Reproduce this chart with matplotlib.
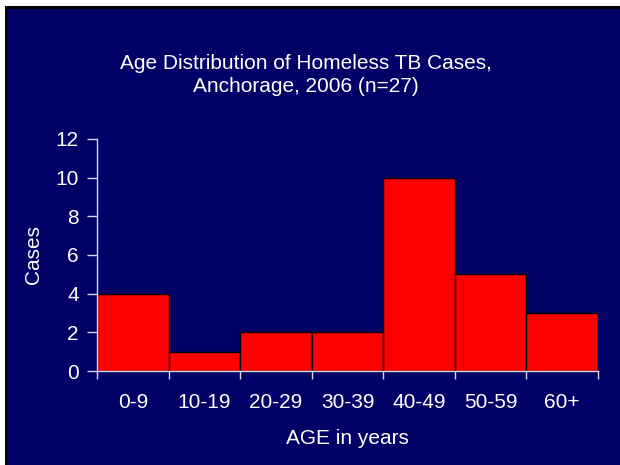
import matplotlib.pyplot as plt
from matplotlib.patches import Rectangle

age_groups = ['0-9', '10-19', '20-29', '30-39', '40-49', '50-59', '60+']
cases = [4, 1, 2, 2, 10, 5, 3]

navy = '#000066'
axis_col = '#d8d8e8'

plt.rcParams['font.family'] = ['Liberation Sans', 'DejaVu Sans']

fig = plt.figure(figsize=(6.2, 4.65), dpi=100)
fig.patch.set_facecolor('white')
# slide panel with a dark shadow on the top/left edge
fig.patches.append(Rectangle((5 / 620, 0), 1, 1 - 6 / 465, transform=fig.transFigure,
                             facecolor='black', edgecolor='none', zorder=-2))
fig.patches.append(Rectangle((8 / 620, 0), 1, 1 - 9 / 465, transform=fig.transFigure,
                             facecolor=navy, edgecolor='none', zorder=-1))

ax = fig.add_axes([97 / 620, 1 - 371 / 465, 501 / 620, 232 / 465])
ax.set_facecolor('none')

x = list(range(len(cases)))
ax.bar(x, cases, width=1.0, align='edge', color='#ff0000', edgecolor='black', linewidth=1)

ax.set_xlim(0, len(cases))
ax.set_ylim(0, 12)
ax.set_yticks(range(0, 13, 2))
ax.set_xticks(range(len(cases) + 1))
ax.set_xticklabels([])
ax.set_xticks([i + 0.5 for i in x], minor=True)
ax.set_xticklabels(age_groups, minor=True)

for side in ['top', 'right']:
    ax.spines[side].set_visible(False)
for side in ['left', 'bottom']:
    ax.spines[side].set_color(axis_col)
    ax.spines[side].set_linewidth(1)

ax.tick_params(axis='y', colors=axis_col, labelcolor='white', labelsize=15,
               length=7, width=1, pad=6)
ax.tick_params(axis='x', which='major', colors=axis_col, length=6, width=1)
ax.tick_params(axis='x', which='minor', length=0, labelcolor='white',
               labelsize=15, pad=16)

ax.set_ylabel('Cases', color='white', fontsize=15, labelpad=9)
ax.set_xlabel('AGE in years', color='white', fontsize=15, labelpad=12)

fig.text(306 / 620, 1 - 75 / 465, 'Age Distribution of Homeless TB Cases,\nAnchorage, 2006 (n=27)',
         color='white', fontsize=15, ha='center', va='center', linespacing=1.3)

fig.savefig('out.png', dpi=100, facecolor=fig.get_facecolor())
